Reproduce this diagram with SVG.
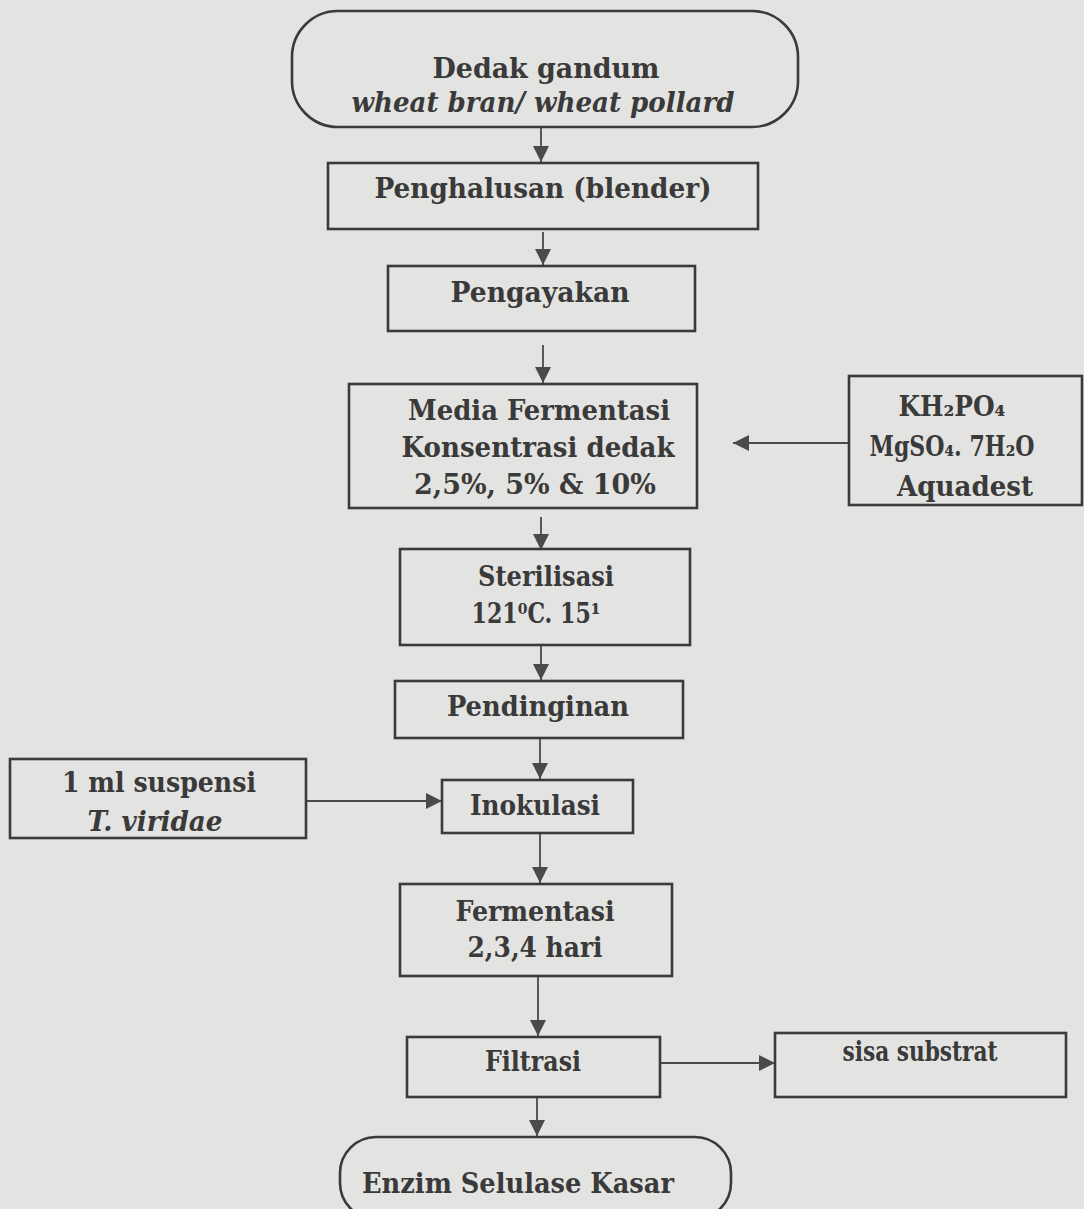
<svg xmlns="http://www.w3.org/2000/svg" width="1084" height="1209" viewBox="0 0 1084 1209">
<defs>
<marker id="ahb" viewBox="0 0 10 10" refX="10" refY="5" markerWidth="16" markerHeight="16" markerUnits="userSpaceOnUse" orient="auto">
<path d="M0,0 L10,5 L0,10 Z" fill="#4a4a4a"/>
</marker>
<style>
.bx{fill:none;stroke:#3a3a3a;stroke-width:2.6}
.t{font-family:"DejaVu Serif Condensed","DejaVu Serif","Liberation Serif",serif;font-size:27px;font-weight:bold;fill:#3a3a3a;text-anchor:middle}
.i{font-style:italic}
.ln{stroke:#4a4a4a;stroke-width:1.8;fill:none}
</style>
</defs>
<rect width="1084" height="1209" fill="#e3e3e1"/>
<g id="connectors">
<line class="ln" x1="541" y1="128" x2="541" y2="162" marker-end="url(#ahb)"/>
<line class="ln" x1="543" y1="232" x2="543" y2="265" marker-end="url(#ahb)"/>
<line class="ln" x1="543" y1="345" x2="543" y2="383" marker-end="url(#ahb)"/>
<line class="ln" x1="849" y1="443" x2="733" y2="443" marker-end="url(#ahb)"/>
<line class="ln" x1="541" y1="517" x2="541" y2="550" marker-end="url(#ahb)"/>
<line class="ln" x1="541" y1="645" x2="541" y2="680" marker-end="url(#ahb)"/>
<line class="ln" x1="540" y1="738" x2="540" y2="779" marker-end="url(#ahb)"/>
<line class="ln" x1="306" y1="801" x2="442" y2="801" marker-end="url(#ahb)"/>
<line class="ln" x1="540" y1="833" x2="540" y2="883" marker-end="url(#ahb)"/>
<line class="ln" x1="538" y1="976" x2="538" y2="1036" marker-end="url(#ahb)"/>
<line class="ln" x1="660" y1="1063" x2="775" y2="1063" marker-end="url(#ahb)"/>
<line class="ln" x1="537" y1="1097" x2="537" y2="1136" marker-end="url(#ahb)"/>
</g>
<g id="n1">
<rect class="bx" x="292" y="11" width="506" height="116" rx="46" ry="46"/>
<text class="t" x="546" y="78" textLength="227" lengthAdjust="spacingAndGlyphs">Dedak gandum</text>
<text class="t i" x="543" y="112" textLength="383" lengthAdjust="spacingAndGlyphs">wheat bran/ wheat pollard</text>
</g>
<g id="n2">
<rect class="bx" x="328" y="163" width="430" height="66"/>
<text class="t" x="543" y="198" textLength="337" lengthAdjust="spacingAndGlyphs">Penghalusan (blender)</text>
</g>
<g id="n3">
<rect class="bx" x="388" y="266" width="307" height="65"/>
<text class="t" x="540" y="302" textLength="179" lengthAdjust="spacingAndGlyphs">Pengayakan</text>
</g>
<g id="n4">
<rect class="bx" x="349" y="384" width="348" height="124"/>
<text class="t" x="539" y="420" textLength="262" lengthAdjust="spacingAndGlyphs">Media Fermentasi</text>
<text class="t" x="538" y="457" textLength="273" lengthAdjust="spacingAndGlyphs">Konsentrasi dedak</text>
<text class="t" x="535" y="494" textLength="242" lengthAdjust="spacingAndGlyphs">2,5%, 5% &amp; 10%</text>
</g>
<g id="n5">
<rect class="bx" x="849" y="376" width="233" height="129"/>
<text class="t" x="952" y="416" textLength="107" lengthAdjust="spacingAndGlyphs">KH₂PO₄</text>
<text class="t" x="952" y="456" textLength="165" lengthAdjust="spacingAndGlyphs">MgSO₄. 7H₂O</text>
<text class="t" x="965" y="496" textLength="136" lengthAdjust="spacingAndGlyphs">Aquadest</text>
</g>
<g id="n6">
<rect class="bx" x="400" y="549" width="290" height="96"/>
<text class="t" x="546" y="586" textLength="136" lengthAdjust="spacingAndGlyphs">Sterilisasi</text>
<text class="t" x="536" y="623" textLength="129" lengthAdjust="spacingAndGlyphs">121⁰C. 15¹</text>
</g>
<g id="n7">
<rect class="bx" x="395" y="681" width="288" height="57"/>
<text class="t" x="538" y="716" textLength="182" lengthAdjust="spacingAndGlyphs">Pendinginan</text>
</g>
<g id="n8">
<rect class="bx" x="10" y="759" width="296" height="79"/>
<text class="t" x="159" y="792" textLength="194" lengthAdjust="spacingAndGlyphs">1 ml suspensi</text>
<text class="t i" x="155" y="831" textLength="135" lengthAdjust="spacingAndGlyphs">T. viridae</text>
</g>
<g id="n9">
<rect class="bx" x="442" y="780" width="191" height="53"/>
<text class="t" x="535" y="815" textLength="130" lengthAdjust="spacingAndGlyphs">Inokulasi</text>
</g>
<g id="n10">
<rect class="bx" x="400" y="884" width="272" height="92"/>
<text class="t" x="535" y="921" textLength="159" lengthAdjust="spacingAndGlyphs">Fermentasi</text>
<text class="t" x="535" y="957" textLength="135" lengthAdjust="spacingAndGlyphs">2,3,4 hari</text>
</g>
<g id="n11">
<rect class="bx" x="407" y="1037" width="253" height="60"/>
<text class="t" x="533" y="1071" textLength="96" lengthAdjust="spacingAndGlyphs">Filtrasi</text>
</g>
<g id="n12">
<rect class="bx" x="775" y="1033" width="291" height="64"/>
<text class="t" x="920" y="1061" textLength="155" lengthAdjust="spacingAndGlyphs">sisa substrat</text>
</g>
<g id="n13">
<rect class="bx" x="340" y="1137" width="391" height="82" rx="36" ry="36"/>
<text class="t" x="518" y="1193" textLength="312" lengthAdjust="spacingAndGlyphs">Enzim Selulase Kasar</text>
</g>
</svg>
